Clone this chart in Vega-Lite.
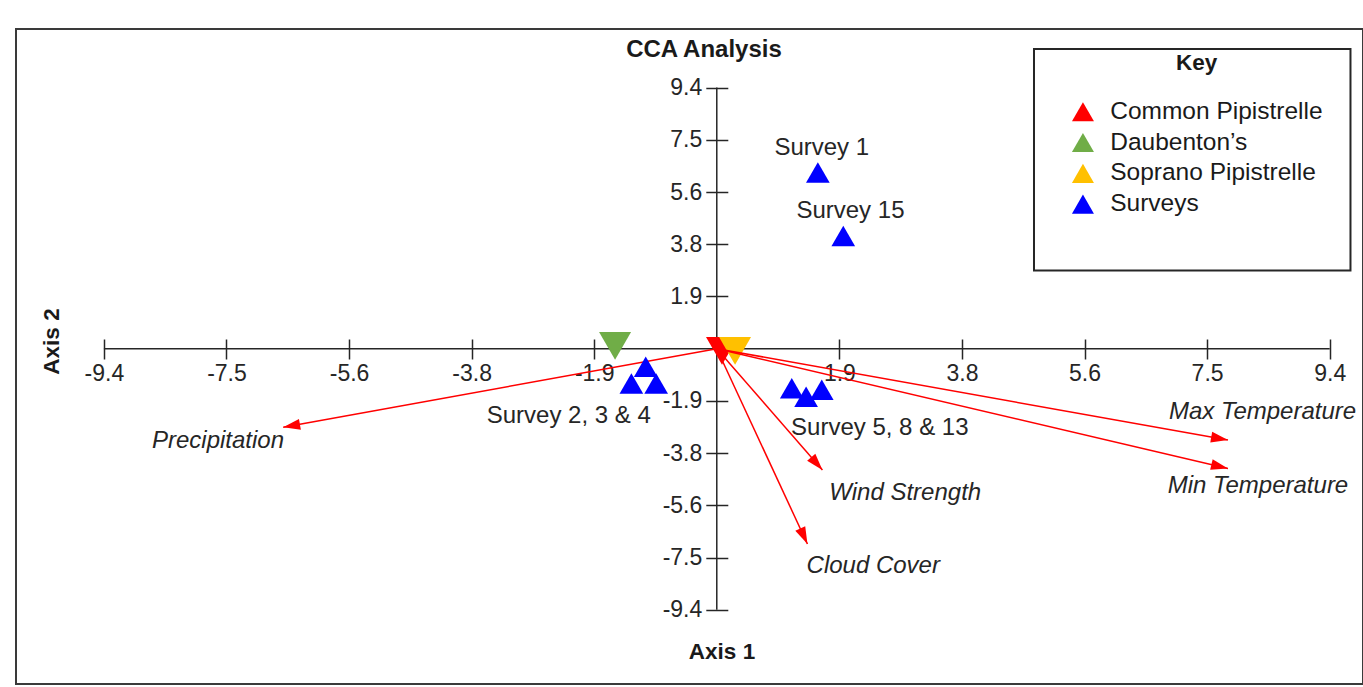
{
  "$schema": "https://vega.github.io/schema/vega-lite/v6.json",
  "width": 1347,
  "height": 655,
  "autosize": {"type": "none"},
  "padding": {"left": 16, "top": 29, "right": 0, "bottom": 3},
  "background": "white",
  "config": {
    "view": {"stroke": "#3a3a3a", "strokeWidth": 2, "fill": "white"},
    "font": "Liberation Sans"
  },
  "title": {
    "text": "CCA Analysis",
    "anchor": "middle",
    "frame": "group",
    "font": "Liberation Sans",
    "fontSize": 24,
    "fontWeight": "bold",
    "color": "#1a1a1a",
    "baseline": "alphabetic",
    "offset": 0,
    "dy": 51.8,
    "dx": 14.5
  },
  "datasets": {
    "keyBox": [{"x": 4.865, "y": 10.788, "x2": 9.719, "y2": 2.815}],
    "axisLines": [
      {"x": -9.4, "y": 0, "x2": 9.4, "y2": 0},
      {"x": 0, "y": -9.4, "x2": 0, "y2": 9.4}
    ],
    "species": [
      {"name": "Common Pipistrelle", "group": "Common Pipistrelle", "x": 0.08, "y": -0.08},
      {"name": "Daubenton’s", "group": "Daubenton’s", "x": -1.56, "y": 0.10},
      {"name": "Soprano Pipistrelle", "group": "Soprano Pipistrelle", "x": 0.28, "y": -0.08}
    ],
    "variables": [
      {"name": "Precipitation", "x": -6.65, "y": -2.83, "lx": -7.65, "ly": -3.59},
      {"name": "Max Temperature", "x": 7.84, "y": -3.29, "lx": 8.37, "ly": -2.54},
      {"name": "Min Temperature", "x": 7.84, "y": -4.31, "lx": 8.30, "ly": -5.21},
      {"name": "Wind Strength", "x": 1.62, "y": -4.37, "lx": 2.89, "ly": -5.45},
      {"name": "Cloud Cover", "x": 1.39, "y": -7.03, "lx": 2.40, "ly": -8.07}
    ],
    "surveys": [
      {"name": "Survey 1", "group": "Surveys", "x": 1.55, "y": 6.34},
      {"name": "Survey 15", "group": "Surveys", "x": 1.94, "y": 4.06},
      {"name": "Survey 2", "group": "Surveys", "x": -1.09, "y": -0.65},
      {"name": "Survey 3", "group": "Surveys", "x": -1.31, "y": -1.25},
      {"name": "Survey 4", "group": "Surveys", "x": -0.93, "y": -1.25},
      {"name": "Survey 5", "group": "Surveys", "x": 1.15, "y": -1.42},
      {"name": "Survey 8", "group": "Surveys", "x": 1.37, "y": -1.73},
      {"name": "Survey 13", "group": "Surveys", "x": 1.61, "y": -1.48}
    ],
    "surveyLabels": [
      {"label": "Survey 1", "x": 1.61, "y": 6.97},
      {"label": "Survey 15", "x": 2.05, "y": 4.72},
      {"label": "Survey 2, 3 & 4", "x": -2.27, "y": -2.68},
      {"label": "Survey 5, 8 & 13", "x": 2.50, "y": -3.11}
    ]
  },
  "encoding": {
    "x": {
      "field": "x",
      "type": "quantitative",
      "scale": {"domain": [-10.748, 9.911], "nice": false, "zero": false},
      "axis": {
        "title": "Axis 1",
        "orient": "bottom",
        "values": [-9.4, -7.52, -5.64, -3.76, -1.88, 1.88, 3.76, 5.64, 7.52, 9.4],
        "labelExpr": "(datum.value < 0 ? '-' : '') + format(abs(datum.value), '.1f')",
        "domain": false,
        "grid": false,
        "ticks": true,
        "tickSize": 20,
        "tickWidth": 1.5,
        "tickColor": "#262626",
        "offset": -345,
        "labelPadding": 3,
        "labelFont": "Liberation Sans",
        "labelFontSize": 23,
        "labelColor": "#262626",
        "labelOverlap": false,
        "labelFlush": false,
        "titleFont": "Liberation Sans",
        "titleFontSize": 22.5,
        "titleFontWeight": "bold",
        "titleColor": "#1a1a1a",
        "titleAlign": "center",
        "titleBaseline": "alphabetic",
        "titleX": 705.5,
        "titleY": 319.3
      }
    },
    "y": {
      "field": "y",
      "type": "quantitative",
      "scale": {"domain": [-12.07, 11.508], "nice": false, "zero": false},
      "axis": {
        "title": "Axis 2",
        "orient": "left",
        "values": [-9.4, -7.52, -5.64, -3.76, -1.88, 1.88, 3.76, 5.64, 7.52, 9.4],
        "labelExpr": "(datum.value < 0 ? '-' : '') + format(abs(datum.value), '.1f')",
        "domain": false,
        "grid": false,
        "ticks": true,
        "tickSize": 22,
        "tickWidth": 1.5,
        "tickColor": "#262626",
        "offset": -711.8,
        "labelPadding": 4,
        "labelFont": "Liberation Sans",
        "labelFontSize": 23,
        "labelColor": "#262626",
        "labelOverlap": false,
        "labelFlush": false,
        "titleFont": "Liberation Sans",
        "titleFontSize": 22.5,
        "titleFontWeight": "bold",
        "titleColor": "#1a1a1a",
        "titleAngle": -90,
        "titleAlign": "center",
        "titleBaseline": "middle",
        "titleX": -676.8,
        "titleY": 312
      }
    }
  },
  "layer": [
    {
      "data": {"name": "keyBox"},
      "mark": {"type": "rect", "fill": "white", "stroke": "#262626", "strokeWidth": 2},
      "encoding": {
        "x2": {"field": "x2"},
        "y2": {"field": "y2"}
      }
    },
    {
      "data": {"name": "axisLines"},
      "mark": {"type": "rule", "color": "#262626", "strokeWidth": 1.5},
      "encoding": {
        "x2": {"field": "x2"},
        "y2": {"field": "y2"}
      }
    },
    {
      "data": {"name": "species"},
      "mark": {"type": "point", "shape": "triangle-down", "filled": true, "size": 1024, "opacity": 1, "strokeWidth": 0},
      "encoding": {
        "color": {
          "field": "group",
          "type": "nominal",
          "scale": {
            "domain": ["Common Pipistrelle", "Daubenton’s", "Soprano Pipistrelle", "Surveys"],
            "range": ["#FF0000", "#70AD47", "#FFC000", "#0000FF"]
          },
          "legend": {
            "title": "Key",
            "orient": "none",
            "legendX": 1054.7,
            "legendY": 23,
            "padding": 0,
            "symbolType": "triangle-up",
            "symbolSize": 484,
            "symbolStrokeWidth": 0,
            "symbolOpacity": 1,
            "labelFont": "Liberation Sans",
            "labelFontSize": 24.5,
            "labelColor": "#1a1a1a",
            "labelOffset": 15,
            "labelLimit": 400,
            "rowPadding": 5.8,
            "titleFont": "Liberation Sans",
            "titleFontSize": 22.5,
            "titleFontWeight": "bold",
            "titleColor": "#1a1a1a",
            "titleAnchor": "middle",
            "titlePadding": 25
          }
        }
      }
    },
    {
      "data": {"name": "variables"},
      "mark": {"type": "rule", "color": "#FF0000", "strokeWidth": 1.5},
      "encoding": {
        "x": {"datum": 0, "type": "quantitative"},
        "y": {"datum": 0, "type": "quantitative"},
        "x2": {"field": "x"},
        "y2": {"field": "y"}
      }
    },
    {
      "data": {"name": "variables"},
      "transform": [
        {"calculate": "atan2(-datum.y * 27.78, datum.x * 65.2) * 180 / PI", "as": "heading"}
      ],
      "mark": {"type": "point", "shape": "M0,0L-1,-0.32L-1,0.32Z", "filled": true, "color": "#FF0000", "size": 1156, "opacity": 1, "strokeWidth": 0},
      "encoding": {
        "angle": {"field": "heading", "type": "quantitative", "scale": null}
      }
    },
    {
      "data": {"name": "variables"},
      "mark": {"type": "text", "font": "Liberation Sans", "fontStyle": "italic", "fontSize": 24, "color": "#262626", "align": "center", "baseline": "alphabetic"},
      "encoding": {
        "x": {"field": "lx", "type": "quantitative"},
        "y": {"field": "ly", "type": "quantitative"},
        "text": {"field": "name"}
      }
    },
    {
      "data": {"name": "surveys"},
      "mark": {"type": "point", "shape": "triangle-up", "filled": true, "size": 560, "opacity": 1, "strokeWidth": 0},
      "encoding": {
        "color": {
          "field": "group",
          "type": "nominal",
          "scale": {
            "domain": ["Common Pipistrelle", "Daubenton’s", "Soprano Pipistrelle", "Surveys"],
            "range": ["#FF0000", "#70AD47", "#FFC000", "#0000FF"]
          }
        }
      }
    },
    {
      "data": {"name": "surveyLabels"},
      "mark": {"type": "text", "font": "Liberation Sans", "fontSize": 24, "color": "#262626", "align": "center", "baseline": "alphabetic"},
      "encoding": {
        "text": {"field": "label"}
      }
    }
  ]
}
